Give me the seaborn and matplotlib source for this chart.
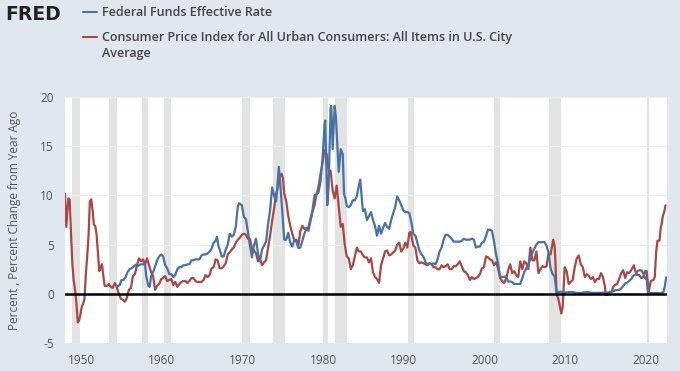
import numpy as np
import pandas as pd
import matplotlib
matplotlib.use("Agg")
import matplotlib.pyplot as plt
import seaborn as sns

# ---------------- data ----------------
cpi_dates = ["1948-01","1948-03","1948-06","1948-08","1948-10","1948-12",
"1949-02","1949-04","1949-06","1949-08","1949-10","1949-12",
"1950-02","1950-04","1950-06","1950-08","1950-10","1950-12",
"1951-02","1951-04","1951-06","1951-08","1951-10","1951-12",
"1952-02","1952-04","1952-06","1952-08","1952-10","1952-12",
"1953-03","1953-06","1953-09","1953-12","1954-03","1954-06","1954-09","1954-12",
"1955-03","1955-06","1955-09","1955-12","1956-03","1956-06","1956-09","1956-12",
"1957-03","1957-06","1957-09","1957-12","1958-03","1958-06","1958-09","1958-12",
"1959-03","1959-06","1959-09","1959-12","1960-03","1960-06","1960-09","1960-12",
"1961-03","1961-06","1961-09","1961-12","1962-03","1962-06","1962-09","1962-12",
"1963-03","1963-06","1963-09","1963-12","1964-03","1964-06","1964-09","1964-12",
"1965-03","1965-06","1965-09","1965-12","1966-03","1966-06","1966-09","1966-12",
"1967-03","1967-06","1967-09","1967-12","1968-03","1968-06","1968-09","1968-12",
"1969-03","1969-06","1969-09","1969-12","1970-03","1970-06","1970-09","1970-12",
"1971-03","1971-06","1971-09","1971-12","1972-03","1972-06","1972-09","1972-12",
"1973-03","1973-06","1973-09","1973-12","1974-03","1974-06","1974-09","1974-11",
"1975-01","1975-03","1975-06","1975-09","1975-12","1976-03","1976-06","1976-09","1976-12",
"1977-03","1977-06","1977-09","1977-12","1978-03","1978-06","1978-09","1978-12",
"1979-03","1979-06","1979-09","1979-12","1980-03","1980-06","1980-09","1980-12",
"1981-03","1981-06","1981-09","1981-12","1982-03","1982-06","1982-09","1982-12",
"1983-03","1983-06","1983-09","1983-12","1984-03","1984-06","1984-09","1984-12",
"1985-03","1985-06","1985-09","1985-12","1986-03","1986-06","1986-09","1986-12",
"1987-03","1987-06","1987-09","1987-12","1988-03","1988-06","1988-09","1988-12",
"1989-03","1989-06","1989-09","1989-12","1990-03","1990-06","1990-09","1990-11",
"1991-01","1991-03","1991-06","1991-09","1991-12","1992-03","1992-06","1992-09","1992-12",
"1993-03","1993-06","1993-09","1993-12","1994-03","1994-06","1994-09","1994-12",
"1995-03","1995-06","1995-09","1995-12","1996-03","1996-06","1996-09","1996-12",
"1997-03","1997-06","1997-09","1997-12","1998-03","1998-06","1998-09","1998-12",
"1999-03","1999-06","1999-09","1999-12","2000-03","2000-06","2000-09","2000-12",
"2001-03","2001-06","2001-09","2001-12","2002-03","2002-06","2002-09","2002-12",
"2003-03","2003-06","2003-09","2003-12","2004-03","2004-06","2004-09","2004-12",
"2005-03","2005-06","2005-09","2005-12","2006-03","2006-06","2006-09","2006-12",
"2007-03","2007-06","2007-09","2007-12","2008-03","2008-07","2008-09","2008-10","2008-12",
"2009-03","2009-07","2009-09","2009-12","2010-03","2010-06","2010-09","2010-12",
"2011-03","2011-06","2011-09","2011-12","2012-03","2012-06","2012-09","2012-12",
"2013-03","2013-06","2013-09","2013-12","2014-03","2014-06","2014-09","2014-12",
"2015-01","2015-04","2015-07","2015-10","2015-12","2016-03","2016-06","2016-09","2016-12",
"2017-03","2017-06","2017-09","2017-12","2018-03","2018-07","2018-09","2018-12",
"2019-03","2019-06","2019-09","2019-12","2020-02","2020-05","2020-08","2020-12",
"2021-02","2021-04","2021-06","2021-09","2021-11","2021-12","2022-02","2022-04","2022-06"]
cpi_values = [10.2,6.8,9.7,9.6,6.0,3.0,
1.3,0.4,-1.0,-2.9,-2.7,-2.1,
-1.3,-1.0,-0.5,2.0,3.8,5.9,
9.4,9.6,8.5,7.0,6.9,6.0,
4.2,2.3,2.7,3.0,1.8,0.8,
0.8,1.0,0.7,0.6,1.1,0.7,0.0,-0.5,
-0.6,-0.8,-0.4,0.4,0.6,1.8,2.0,2.9,
3.6,3.3,3.5,3.0,3.6,2.9,2.2,1.8,
0.4,0.8,1.0,1.5,1.6,1.8,1.3,1.4,
1.5,0.9,1.2,0.7,1.0,1.2,1.3,1.3,
1.1,1.3,1.6,1.6,1.3,1.2,1.2,1.2,
1.4,1.9,1.7,1.9,2.6,2.7,3.5,3.4,
2.6,2.6,2.8,3.1,4.0,4.2,4.5,4.7,
5.2,5.5,5.7,6.0,6.1,6.0,5.6,5.6,
4.6,4.4,4.1,3.3,3.5,2.9,3.2,3.4,
4.7,5.9,7.4,8.7,10.2,10.9,12.0,12.2,
11.8,10.2,9.4,7.9,6.9,6.1,5.4,5.5,4.9,
6.4,6.9,6.6,6.7,6.4,7.4,8.3,9.0,
10.1,10.9,12.2,13.3,14.6,14.2,12.6,12.5,
10.5,9.7,11.0,8.9,6.8,7.1,5.0,3.8,
3.6,2.5,2.9,3.8,4.7,4.3,4.3,3.9,
3.7,3.7,3.2,3.6,2.2,1.7,1.5,1.1,
2.9,3.6,4.3,4.4,3.9,4.0,4.2,4.4,
5.0,5.2,4.3,4.6,5.2,4.7,6.2,6.3,
5.6,4.9,4.7,3.4,3.1,3.2,3.1,3.0,2.9,
3.1,3.0,2.7,2.7,2.5,2.5,2.9,2.7,
2.8,3.0,2.5,2.5,2.8,2.8,3.0,3.3,
2.8,2.3,2.2,1.9,1.4,1.7,1.5,1.6,
1.7,2.0,2.6,2.7,3.8,3.7,3.5,3.4,
2.9,3.2,2.6,1.6,1.3,1.1,1.5,2.4,
3.0,2.1,2.3,1.9,1.7,3.3,2.5,3.3,
3.1,2.5,4.7,3.4,3.4,4.3,2.1,2.5,
2.8,2.7,2.8,4.1,4.0,5.5,4.9,3.7,0.0,
-0.6,-2.0,-1.4,2.7,2.3,1.0,1.2,1.4,
2.7,3.6,3.9,3.0,2.7,1.7,2.0,1.8,
1.5,1.7,1.2,1.5,1.5,2.1,1.7,0.7,
-0.1,-0.1,0.2,0.2,0.7,0.9,1.0,1.5,2.1,
2.4,1.6,2.2,2.1,2.4,2.9,2.3,1.9,
1.9,1.6,1.7,2.3,2.3,0.2,1.3,1.4,
1.7,4.2,5.4,5.4,6.8,7.0,7.9,8.3,9.0]

ff_dates = ["1954-07","1954-10","1955-01","1955-04","1955-07","1955-10",
"1956-01","1956-04","1956-07","1956-10","1957-01","1957-04","1957-07","1957-10","1957-12",
"1958-02","1958-05","1958-07","1958-09","1958-12","1959-03","1959-06","1959-09","1959-12",
"1960-03","1960-06","1960-09","1960-12","1961-03","1961-06","1961-09","1961-12",
"1962-03","1962-06","1962-09","1962-12","1963-03","1963-06","1963-09","1963-12",
"1964-03","1964-06","1964-09","1964-12","1965-03","1965-06","1965-09","1965-12",
"1966-03","1966-06","1966-09","1966-11","1967-01","1967-03","1967-06","1967-09","1967-12",
"1968-03","1968-06","1968-09","1968-12","1969-03","1969-06","1969-08","1969-12",
"1970-03","1970-06","1970-09","1970-12","1971-03","1971-06","1971-09","1971-12",
"1972-03","1972-06","1972-09","1972-12","1973-03","1973-06","1973-09","1973-12",
"1974-03","1974-07","1974-09","1974-12","1975-03","1975-06","1975-09","1975-12",
"1976-03","1976-06","1976-09","1976-12","1977-03","1977-06","1977-09","1977-12",
"1978-03","1978-06","1978-09","1978-12","1979-03","1979-06","1979-09","1979-12",
"1980-03","1980-04","1980-07","1980-09","1980-12","1981-01","1981-03","1981-06",
"1981-08","1981-10","1981-12","1982-03","1982-06","1982-08","1982-10","1982-12",
"1983-03","1983-06","1983-09","1983-12","1984-03","1984-06","1984-08","1984-10","1984-12",
"1985-03","1985-06","1985-09","1985-12","1986-03","1986-06","1986-09","1986-12",
"1987-03","1987-06","1987-09","1987-12","1988-03","1988-06","1988-09","1988-12",
"1989-03","1989-06","1989-09","1989-12","1990-03","1990-06","1990-09","1990-12",
"1991-03","1991-06","1991-09","1991-12","1992-03","1992-06","1992-09","1992-12",
"1993-03","1993-06","1993-09","1993-12","1994-03","1994-06","1994-09","1994-12",
"1995-03","1995-06","1995-09","1995-12","1996-03","1996-06","1996-09","1996-12",
"1997-03","1997-06","1997-09","1997-12","1998-03","1998-06","1998-09","1998-12",
"1999-03","1999-06","1999-09","1999-12","2000-03","2000-06","2000-09","2000-12",
"2001-03","2001-06","2001-09","2001-12","2002-03","2002-06","2002-09","2002-12",
"2003-03","2003-06","2003-09","2003-12","2004-03","2004-06","2004-09","2004-12",
"2005-03","2005-06","2005-09","2005-12","2006-03","2006-06","2006-09","2006-12",
"2007-03","2007-06","2007-09","2007-12","2008-03","2008-06","2008-09","2008-12",
"2009-03","2009-06","2009-12","2010-06","2010-12","2011-06","2011-12","2012-06","2012-12",
"2013-06","2013-12","2014-06","2014-12","2015-06","2015-12","2016-03","2016-09","2016-12",
"2017-03","2017-06","2017-09","2017-12","2018-03","2018-06","2018-09","2018-12",
"2019-03","2019-06","2019-09","2019-12","2020-02","2020-03","2020-04","2020-12",
"2021-06","2021-12","2022-03","2022-05","2022-06","2022-07"]
ff_values = [0.8,0.85,1.4,1.4,1.7,2.2,
2.5,2.6,2.75,2.96,2.8,2.95,3.0,3.0,3.0,
1.7,0.8,0.7,1.8,2.2,2.8,3.4,3.8,4.0,
3.8,2.9,2.6,2.0,2.0,1.7,1.9,2.5,
2.7,2.7,2.9,2.9,3.0,3.0,3.4,3.4,
3.5,3.5,3.5,3.9,4.0,4.0,4.1,4.3,
4.6,5.2,5.4,5.8,4.9,4.5,3.8,3.8,4.5,
5.0,6.1,5.8,6.0,6.8,8.9,9.2,9.0,
7.8,7.6,6.3,4.9,3.7,4.9,5.6,4.1,
3.3,4.5,4.9,5.3,7.1,8.5,10.8,9.95,
9.4,12.9,11.3,8.5,5.5,5.5,6.2,5.2,
4.8,5.5,5.3,4.65,4.7,5.4,6.1,6.6,
6.8,7.6,8.5,10.0,10.1,10.3,11.4,13.8,
17.2,17.6,9.0,10.9,18.9,19.1,14.7,19.1,
17.8,15.1,12.4,14.7,14.2,10.1,9.7,8.95,
8.8,9.0,9.5,9.5,9.9,11.0,11.6,10.0,8.4,
8.6,7.5,7.9,8.3,7.5,6.9,5.9,6.9,
6.1,6.7,7.2,6.8,6.6,7.5,8.2,8.8,
9.9,9.5,9.0,8.5,8.3,8.3,8.2,7.3,
6.1,5.9,5.2,4.4,4.0,3.8,3.2,3.0,
3.1,3.0,3.1,3.0,3.5,4.3,4.7,5.5,
6.0,6.0,5.8,5.6,5.3,5.3,5.3,5.3,
5.4,5.6,5.5,5.5,5.5,5.6,5.5,4.7,
4.8,4.8,5.2,5.3,5.85,6.5,6.5,6.4,
5.3,4.0,3.1,1.8,1.7,1.75,1.75,1.25,
1.25,1.2,1.0,1.0,1.0,1.0,1.6,2.2,
2.6,3.0,3.6,4.2,4.6,5.0,5.25,5.24,
5.26,5.25,4.9,4.2,2.6,2.0,1.8,0.16,
0.18,0.21,0.12,0.18,0.18,0.09,0.07,0.16,0.16,
0.09,0.09,0.10,0.12,0.13,0.24,0.36,0.40,0.54,
0.79,1.04,1.15,1.30,1.51,1.82,1.95,2.27,
2.41,2.38,2.04,1.55,1.58,0.65,0.05,0.09,
0.08,0.08,0.20,0.77,1.21,1.68]

recession_starts = ["1948-11","1953-07","1957-08","1960-04","1969-12","1973-11",
                    "1980-01","1981-07","1990-07","2001-03","2007-12","2020-02"]
recession_ends = ["1949-10","1954-05","1958-04","1961-02","1970-11","1975-03",
                  "1980-07","1982-11","1991-03","2001-11","2009-06","2020-04"]

series_names = ["Federal Funds Effective Rate",
                "Consumer Price Index for All Urban Consumers: All Items in U.S. City Average"]
legend_lines = [["Federal Funds Effective Rate"],
                ["Consumer Price Index for All Urban Consumers: All Items in U.S. City",
                 "Average"]]
y_ticks = [-5, 0, 5, 10, 15, 20]
x_ticks = [1950, 1960, 1970, 1980, 1990, 2000, 2010, 2020]
y_label = "Percent , Percent Change from Year Ago"


def to_year(s):
    d = pd.to_datetime(pd.Series(s), format="%Y-%m")
    return (d.dt.year + (d.dt.month - 1) / 12.0).to_numpy()


df = pd.concat([
    pd.DataFrame({"year": to_year(ff_dates), "value": ff_values, "series": series_names[0]}),
    pd.DataFrame({"year": to_year(cpi_dates), "value": cpi_values, "series": series_names[1]}),
], ignore_index=True)

# ---------------- style ----------------
BG = "#e1e7ef"
BLUE = "#4572a7"
RED = "#aa4643"
sns.set_theme(style="white")
plt.rcParams["font.family"] = ["Open Sans", "DejaVu Sans"]

fig = plt.figure(figsize=(6.8, 3.71), dpi=100, facecolor=BG)
ax = fig.add_axes([65 / 680, 28 / 371, 602 / 680, 246 / 371])
ax.set_facecolor("white")

for s, e in zip(to_year(recession_starts), to_year(recession_ends)):
    ax.axvspan(s, e + 1 / 12, color="#e3e3e3", lw=0, zorder=0)

for yt in y_ticks[1:]:
    ax.axhline(yt, color="#eeeeee", lw=0.8, zorder=0.5)

sns.lineplot(data=df, x="year", y="value", hue="series",
             palette={series_names[0]: BLUE, series_names[1]: RED},
             hue_order=[series_names[1], series_names[0]],
             lw=1.6, ax=ax, legend=False, zorder=3, estimator=None)
ax.axhline(0, color="black", lw=1.8, zorder=4)

ax.set_xlim(1948.0, 2022.6)
ax.set_ylim(-5, 20)
ax.set_xticks(x_ticks)
ax.set_yticks(y_ticks)
ax.set_xticklabels([str(t) for t in x_ticks])
ax.set_yticklabels([str(t) for t in y_ticks])
ax.tick_params(axis="both", length=0, labelsize=8.5, colors="#555555", pad=8)
ax.set_xlabel("")
ax.set_ylabel(y_label, fontsize=8.5, color="#555555", labelpad=14)
for sp in ax.spines.values():
    sp.set_visible(False)

# ---------------- header / legend ----------------
fig.text(5 / 680, 1 - 14 / 371, "FRED", fontsize=13.5, fontweight="heavy",
         color="#222222", va="center", ha="left", family=["DejaVu Sans"])
leg_y = [12, 37]
for col, ypx, lines in zip([BLUE, RED], leg_y, legend_lines):
    fig.add_artist(plt.Line2D([83 / 680, 97 / 680], [1 - ypx / 371] * 2,
                              color=col, lw=1.5, transform=fig.transFigure))
    for i, ln in enumerate(lines):
        fig.text(102 / 680, 1 - (ypx + 16 * i) / 371, ln, fontsize=9.0,
                 fontweight="semibold", color="#444444", va="center", ha="left")

fig.savefig("out.png", dpi=100, facecolor=BG)
